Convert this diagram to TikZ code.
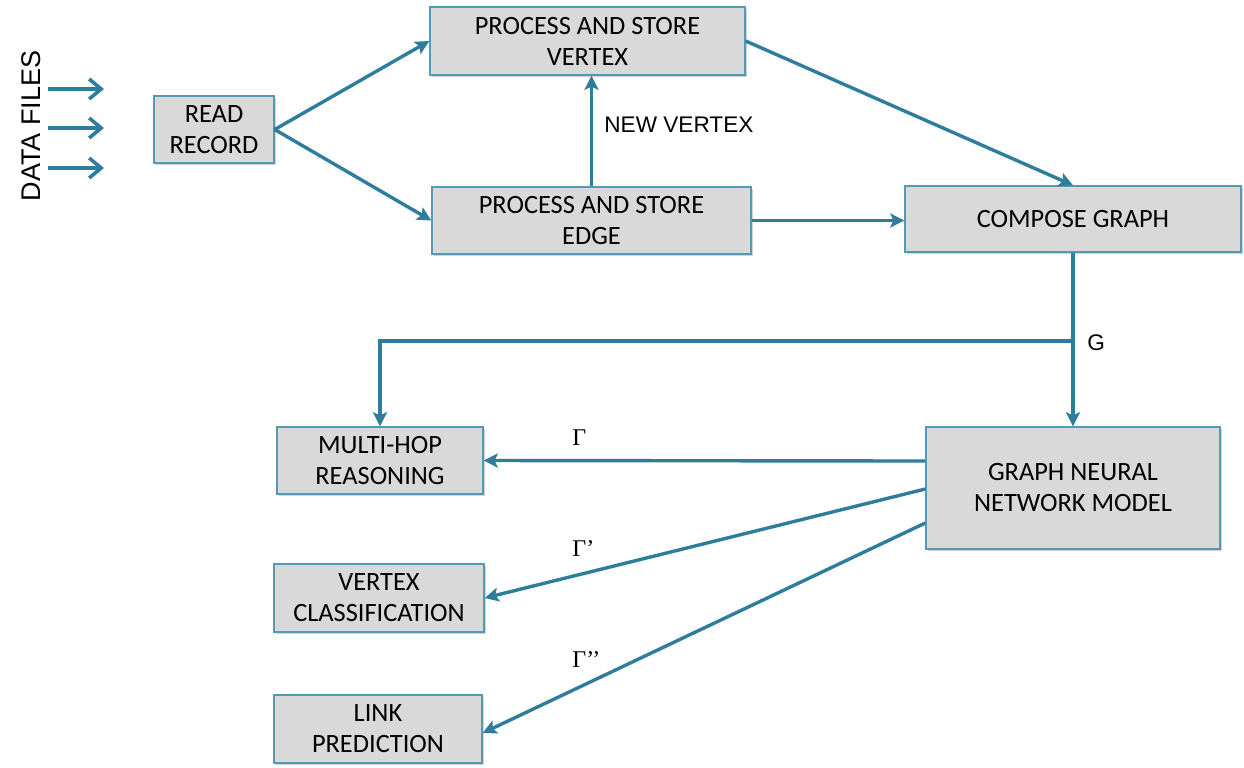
\documentclass[tikz,border=0pt]{standalone}
\usepackage{fontspec}
\setmainfont{Liberation Sans}
\newfontfamily\boxfont{Carlito}
\newfontfamily\greekfont{Liberation Serif}
\usetikzlibrary{arrows.meta,shadows,calc}
\definecolor{flow}{RGB}{46,125,157}
\definecolor{boxline}{RGB}{84,154,182}
\definecolor{boxfill}{RGB}{217,217,217}
\begin{document}
\begin{tikzpicture}[x=0.5pt,y=-0.5pt,
  stepbox/.style={draw=boxline, line width=0.7pt, fill=boxfill, align=center,
    font=\boxfont\fontsize{13.2}{15.5}\selectfont, inner sep=0pt,
    drop shadow={shadow xshift=0.8pt, shadow yshift=-0.8pt, opacity=0.35, fill=gray}},
  link/.style={draw=flow, line width=1.7pt, -{Stealth[length=7pt,width=7pt,inset=1.5pt]}},
  feed/.style={draw=flow, line width=1.8pt, -{Straight Barb[length=6pt,width=10pt,line width=1.8pt]}},
  note/.style={font=\fontsize{11.3}{13}\selectfont, inner sep=0pt},
  glabel/.style={font=\greekfont\fontsize{12}{14}\selectfont, inner sep=0pt, anchor=west}]
\useasboundingbox (0,0) rectangle (1244,767);

% input label and incoming data arrows
\node[rotate=90, font=\fontsize{13.5}{15}\selectfont, inner sep=0pt] (files) at (31,126) {DATA FILES};
\foreach \i/\y in {1/89,2/128,3/168}{
  \coordinate (in\i) at (48,\y);
  \coordinate (out\i) at (104,\y);
  \draw[feed] (in\i) -- (out\i);
}

% processing boxes
\node[stepbox, minimum width=60pt, minimum height=33.5pt] (read) at (214,129.5) {READ\\RECORD};
\node[stepbox, minimum width=157.5pt, minimum height=34pt] (vert) at (587.5,41) {PROCESS AND STORE\\VERTEX};
\node[stepbox, minimum width=159.5pt, minimum height=33.5pt] (edge) at (591.5,220.5) {PROCESS AND STORE\\EDGE};
\node[stepbox, minimum width=168pt, minimum height=33pt] (comp) at (1073,219) {COMPOSE GRAPH};
\node[stepbox, minimum width=147pt, minimum height=61pt] (gnn) at (1073,488) {GRAPH NEURAL\\NETWORK MODEL};
\node[stepbox, minimum width=103pt, minimum height=33.5pt] (multi) at (380,460.5) {MULTI-HOP\\REASONING};
\node[stepbox, minimum width=105pt, minimum height=34pt] (vclass) at (379,598) {VERTEX\\CLASSIFICATION};
\node[stepbox, minimum width=104pt, minimum height=34pt] (lpred) at (378,729) {LINK\\PREDICTION};

% graph construction flow
\draw[link] (read.east) -- (vert.west);
\draw[link] (read.east) -- (edge.west);
\draw[link] (edge.north) -- (edge.north |- vert.south);
\node[note, anchor=west] (newv) at (604,125) {NEW VERTEX};
\draw[link] (vert.east) -- (comp.north);
\draw[link] (edge.east) -- (comp.west |- edge.east);

% graph G fed to the model and to reasoning
\coordinate (branch) at (1073,341);
\draw[link] (comp.south) -- (gnn.north);
\draw[link] (branch) -| (multi.north);
\node[note, anchor=west] (g) at (1087,343) {G};

% model outputs
\draw[link] ([yshift=13.5pt]gnn.west) -- (multi.east);
\draw[link] ([yshift=-0.5pt]gnn.west) -- (vclass.east);
\draw[link] ([yshift=-17.5pt]gnn.west) -- ([yshift=-2pt]lpred.east);
\node[glabel] (g1) at (572,438) {Γ};
\node[glabel] (g2) at (572,549) {Γ’};
\node[glabel] (g3) at (572,660) {Γ’’};
\end{tikzpicture}
\end{document}
